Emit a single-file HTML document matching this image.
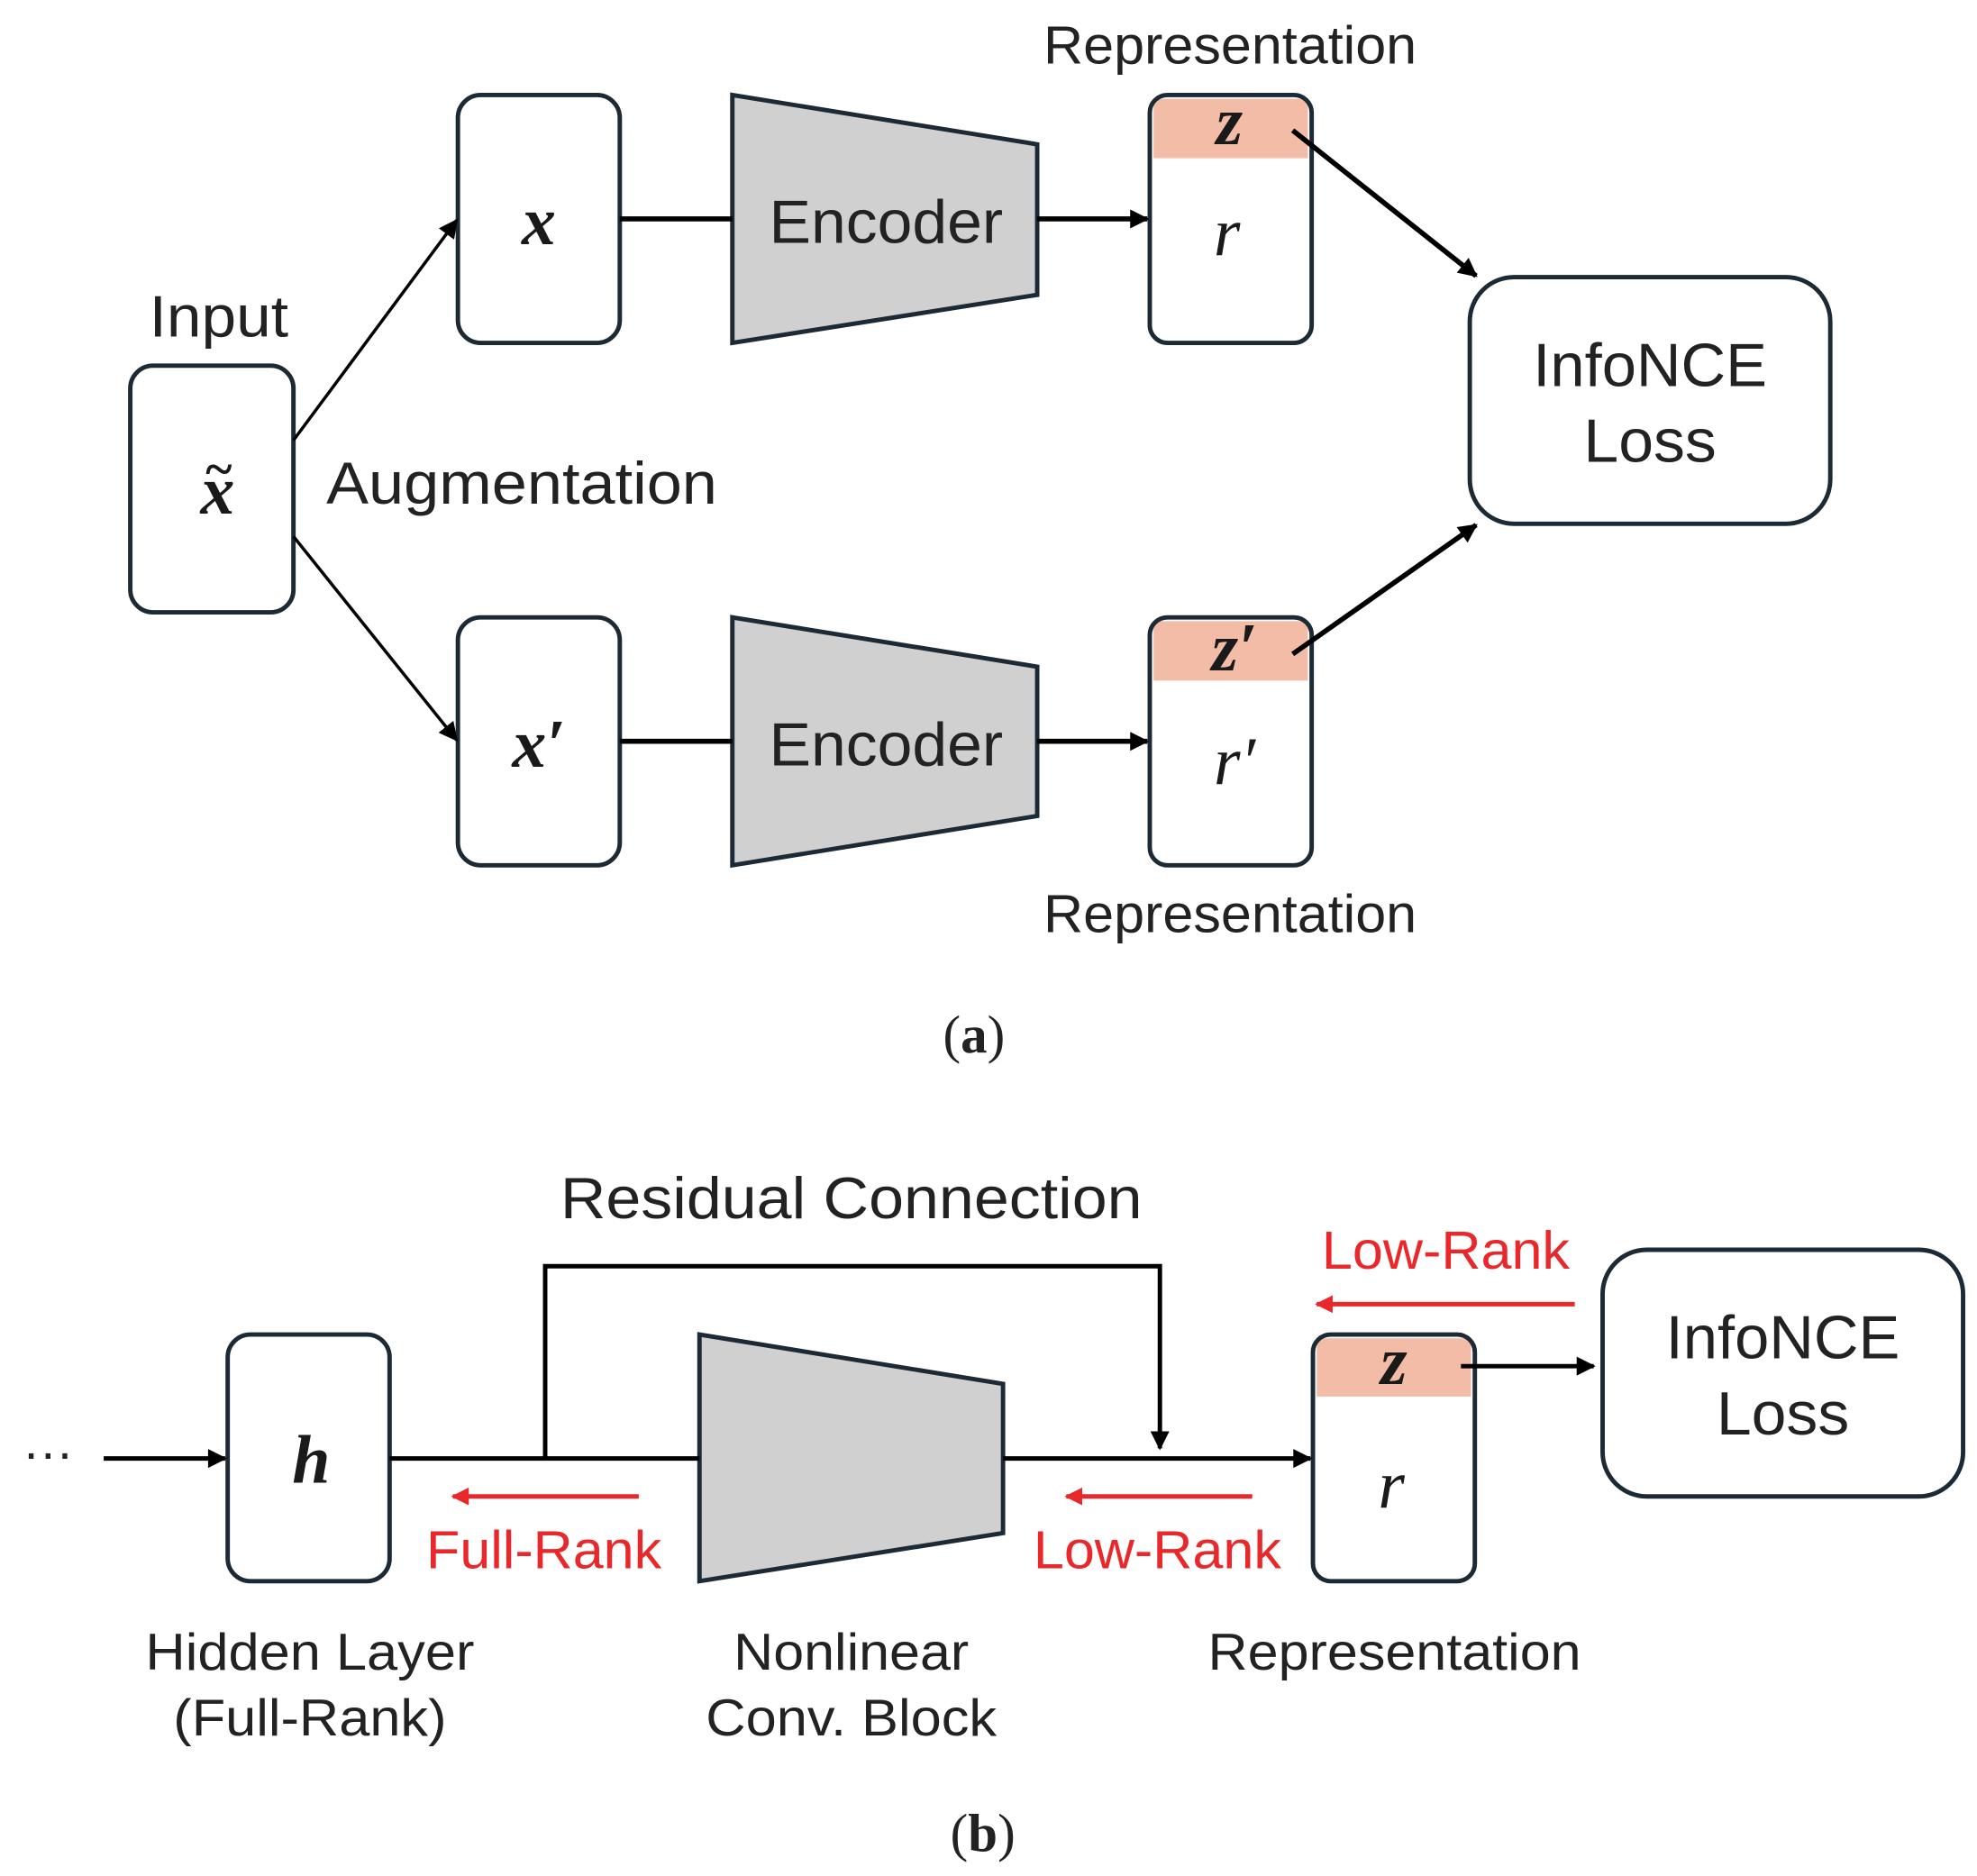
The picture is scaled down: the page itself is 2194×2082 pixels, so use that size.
<!DOCTYPE html>
<html><head><meta charset="utf-8"><style>html,body{margin:0;padding:0;background:#fff}svg{display:block}</style></head>
<body>
<svg width="2194" height="2082" viewBox="0 0 1563 1483" xmlns="http://www.w3.org/2000/svg">
<defs>
<marker id="ab" viewBox="0 0 10 10" markerWidth="20" markerHeight="15" refX="9" refY="5" orient="auto" markerUnits="userSpaceOnUse"><path d="M0,0 L10,5 L0,10 z" fill="#000"/></marker>
<marker id="ar" viewBox="0 0 10 10" markerWidth="20" markerHeight="14" refX="9" refY="5" orient="auto" markerUnits="userSpaceOnUse"><path d="M0,0 L10,5 L0,10 z" fill="#e8282b"/></marker>
</defs>
<g font-family="Liberation Sans, sans-serif" fill="#222">
<!-- (a) -->
<g stroke="#1c2a36" stroke-width="3.5" fill="#fff">
<rect x="103" y="289" width="129" height="195" rx="18"/>
<rect x="362" y="75" width="128" height="196" rx="18"/>
<rect x="362" y="488" width="128" height="196" rx="18"/>
<rect x="1162" y="219" width="285" height="195" rx="35"/>
</g>
<path d="M912,78 H1034 V125 H912 Z" fill="#f2bca6"/>
<path d="M912,491 H1034 V538 H912 Z" fill="#f2bca6"/>
<rect x="909" y="75" width="128" height="196" rx="14" fill="none" stroke="#1c2a36" stroke-width="3.5"/>
<rect x="909" y="488" width="128" height="196" rx="14" fill="none" stroke="#1c2a36" stroke-width="3.5"/>
<polygon points="579,75 820,114 820,233 579,271" fill="#d0d0d0" stroke="#1c2a36" stroke-width="3.5"/>
<polygon points="579,488 820,527 820,645 579,684" fill="#d0d0d0" stroke="#1c2a36" stroke-width="3.5"/>
<g stroke="#000" stroke-width="4" fill="none">
<line x1="490" y1="173" x2="579" y2="173"/>
<line x1="490" y1="586" x2="579" y2="586"/>
<line x1="820" y1="173" x2="907" y2="173" marker-end="url(#ab)"/>
<line x1="820" y1="586" x2="907" y2="586" marker-end="url(#ab)"/>
<line x1="1022" y1="103" x2="1167" y2="218" marker-end="url(#ab)"/>
<line x1="1022" y1="517" x2="1167" y2="415" marker-end="url(#ab)"/>
</g>
<g stroke="#000" stroke-width="2.5" fill="none">
<line x1="232" y1="348" x2="361" y2="174" marker-end="url(#ab)"/>
<line x1="232" y1="424" x2="361" y2="585" marker-end="url(#ab)"/>
</g>
<g font-size="42">
<text x="825" y="50" textLength="295" lengthAdjust="spacingAndGlyphs">Representation</text>
<text x="825" y="737" textLength="295" lengthAdjust="spacingAndGlyphs">Representation</text>
</g>
<text x="118" y="266" font-size="46" textLength="110" lengthAdjust="spacingAndGlyphs">Input</text>
<text x="258" y="398" font-size="47" textLength="309" lengthAdjust="spacingAndGlyphs">Augmentation</text>
<g font-size="48">
<text x="608" y="192" textLength="185" lengthAdjust="spacingAndGlyphs">Encoder</text>
<text x="608" y="605" textLength="185" lengthAdjust="spacingAndGlyphs">Encoder</text>
<text x="1212" y="305" textLength="185" lengthAdjust="spacingAndGlyphs">InfoNCE</text>
<text x="1252" y="365" textLength="105" lengthAdjust="spacingAndGlyphs">Loss</text>
</g>
<g font-family="Liberation Serif, serif" font-size="54" text-anchor="middle" fill="#1a1a1a">
<text x="426" y="193" font-weight="bold" font-style="italic">x</text>
<text x="426" y="606" font-weight="bold" font-style="italic">x′</text>
<text x="172" y="406" font-weight="bold" font-style="italic">x</text>
<text x="173" y="384" font-size="40" font-weight="bold">~</text>
<text x="972" y="114" font-weight="bold" font-style="italic">z</text>
<text x="976" y="530" font-weight="bold" font-style="italic">z′</text>
<text x="970" y="202" font-style="italic">r</text>
<text x="976" y="620" font-style="italic">r′</text>
</g>
<text x="770" y="832" font-family="Liberation Serif, serif" font-size="42" text-anchor="middle">(<tspan font-weight="bold">a</tspan>)</text>
<!-- (b) -->
<g stroke="#1c2a36" stroke-width="3.5" fill="#fff">
<rect x="180" y="1055" width="128" height="195" rx="18"/>
<rect x="1267" y="988" width="285" height="195" rx="35"/>
</g>
<path d="M1041,1058 H1163 V1104 H1041 Z" fill="#f2bca6"/>
<rect x="1038" y="1055" width="128" height="195" rx="14" fill="none" stroke="#1c2a36" stroke-width="3.5"/>
<polygon points="553,1055 793,1094 793,1212 553,1250" fill="#d0d0d0" stroke="#1c2a36" stroke-width="3.5"/>
<g stroke="#000" stroke-width="3.5" fill="none">
<line x1="82" y1="1153" x2="178" y2="1153" marker-end="url(#ab)"/>
<line x1="308" y1="1153" x2="553" y2="1153"/>
<line x1="793" y1="1153" x2="1036" y2="1153" marker-end="url(#ab)"/>
<polyline points="431,1153 431,1001 917,1001 917,1145" marker-end="url(#ab)"/>
<line x1="1155" y1="1080" x2="1260" y2="1080" marker-end="url(#ab)"/>
</g>
<g stroke="#e8282b" stroke-width="3.5">
<line x1="505" y1="1183" x2="358" y2="1183" marker-end="url(#ar)"/>
<line x1="990" y1="1183" x2="843" y2="1183" marker-end="url(#ar)"/>
<line x1="1245" y1="1031" x2="1041" y2="1031" marker-end="url(#ar)"/>
</g>
<text x="38" y="1162" font-size="40" text-anchor="middle">···</text>
<text x="443" y="963" font-size="46" textLength="460" lengthAdjust="spacingAndGlyphs">Residual Connection</text>
<g font-size="42" fill="#e8282b">
<text x="337" y="1240" textLength="186" lengthAdjust="spacingAndGlyphs">Full-Rank</text>
<text x="817" y="1240" textLength="196" lengthAdjust="spacingAndGlyphs">Low-Rank</text>
<text x="1045" y="1003" textLength="196" lengthAdjust="spacingAndGlyphs">Low-Rank</text>
</g>
<g font-size="41">
<text x="115" y="1320" textLength="260" lengthAdjust="spacingAndGlyphs">Hidden Layer</text>
<text x="137" y="1372" textLength="216" lengthAdjust="spacingAndGlyphs">(Full-Rank)</text>
<text x="580" y="1320" textLength="186" lengthAdjust="spacingAndGlyphs">Nonlinear</text>
<text x="558" y="1372" textLength="230" lengthAdjust="spacingAndGlyphs">Conv. Block</text>
<text x="955" y="1320" textLength="295" lengthAdjust="spacingAndGlyphs">Representation</text>
</g>
<g font-size="48">
<text x="1317" y="1074" textLength="185" lengthAdjust="spacingAndGlyphs">InfoNCE</text>
<text x="1357" y="1134" textLength="105" lengthAdjust="spacingAndGlyphs">Loss</text>
</g>
<g font-family="Liberation Serif, serif" font-size="54" text-anchor="middle" fill="#1a1a1a">
<text x="246" y="1172" font-weight="bold" font-style="italic">h</text>
<text x="1102" y="1094" font-weight="bold" font-style="italic">z</text>
<text x="1100" y="1192" font-style="italic">r</text>
</g>
<text x="777" y="1463" font-family="Liberation Serif, serif" font-size="42" text-anchor="middle">(<tspan font-weight="bold">b</tspan>)</text>
</g>
</svg>
</body></html>
